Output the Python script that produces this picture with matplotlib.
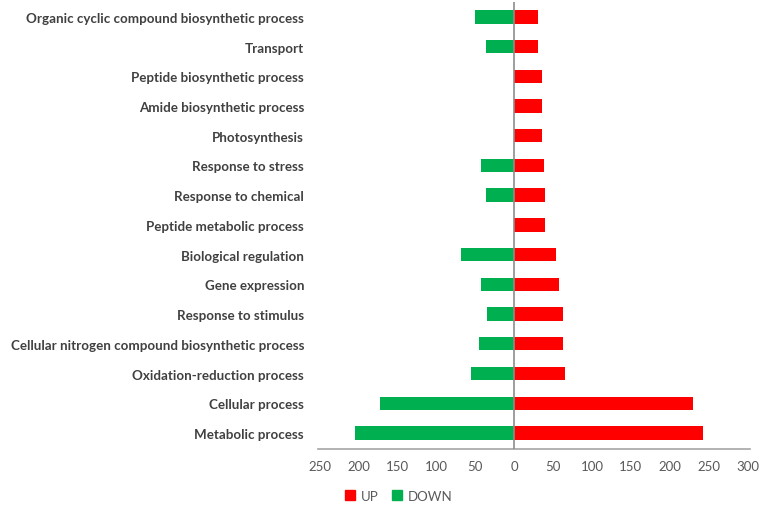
import numpy as np
import matplotlib.pyplot as plt
from matplotlib.patches import Patch

# categories, top to bottom as shown
categories = [
    "Organic cyclic compound biosynthetic process",
    "Transport",
    "Peptide biosynthetic process",
    "Amide biosynthetic process",
    "Photosynthesis",
    "Response to stress",
    "Response to chemical",
    "Peptide metabolic process",
    "Biological regulation",
    "Gene expression",
    "Response to stimulus",
    "Cellular nitrogen compound biosynthetic process",
    "Oxidation-reduction process",
    "Cellular process",
    "Metabolic process",
]
up = [31, 31, 36, 36, 36, 38, 39, 39, 54, 57, 63, 63, 65, 230, 243]
down = [50, 36, 0, 0, 0, 42, 36, 0, 68, 42, 35, 45, 55, 172, 204]
xticks = [-250, -200, -150, -100, -50, 0, 50, 100, 150, 200, 250, 300]

RED = "#ff0000"
GREEN = "#00b050"

plt.rcParams['font.family'] = ['Lato', 'DejaVu Sans']

fig = plt.figure(figsize=(7.65, 5.1), dpi=100)
ax = fig.add_axes([318 / 765, 1 - 450 / 510, (750 - 318) / 765, (450 - 3) / 510])

y = np.arange(len(categories))[::-1]
ax.barh(y, up, height=0.45, color=RED, edgecolor="none")
ax.barh(y, [-d for d in down], height=0.45, color=GREEN, edgecolor="none")

ax.set_xlim(-252, 303)
ax.set_ylim(-0.54, len(categories) - 0.5)
ax.axvline(0, color="#8c8c8c", lw=1.2, zorder=3)

ax.set_xticks(xticks)
ax.set_xticklabels([str(abs(t)) for t in xticks], fontsize=9.5, color="#595959")
ax.set_yticks(y)
ax.set_yticklabels(categories, fontsize=9.6, fontweight="bold", color="#404040")
ax.tick_params(axis="both", length=0)
ax.tick_params(axis="x", pad=8)
ax.tick_params(axis="y", pad=10)

for s in ["top", "right", "left"]:
    ax.spines[s].set_visible(False)
ax.spines["bottom"].set_color("#a6a6a6")
ax.spines["bottom"].set_linewidth(1.2)

handles = [Patch(color=RED, label="UP"), Patch(color=GREEN, label="DOWN")]
fig.legend(handles=handles, loc="center left", bbox_to_anchor=(333 / 765, 1 - 497 / 510),
           ncol=2, frameon=False, fontsize=9.5, handlelength=0.8, handleheight=0.8,
           handletextpad=0.4, columnspacing=1.0, labelcolor="#595959")

fig.savefig("out.png", dpi=100)
